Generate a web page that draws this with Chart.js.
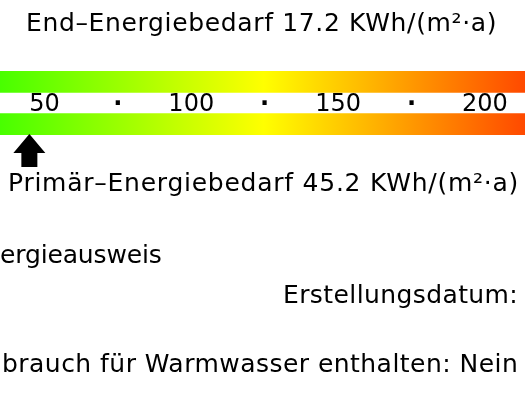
<!DOCTYPE html>
<html>
<head>
<meta charset="utf-8">
<script src="https://cdn.jsdelivr.net/npm/chart.js@4"></script>
<style>
  html, body { margin: 0; padding: 0; background: #fff; }
  #wrap { position: relative; width: 525px; height: 394px; overflow: hidden; }
  #wrap canvas { position: absolute; left: 0; top: 0; }
  .t { position: absolute; font-family: "DejaVu Sans", sans-serif; font-size: 25px; line-height: 25px; color: #000; white-space: nowrap; }
</style>
</head>
<body>
<div id="wrap">
  <canvas id="c" width="525" height="394"></canvas>
  <div class="t" id="tEnd" style="left:26px; top:9.5px; letter-spacing:0.65px;"></div>
  <div class="t" id="tPrim" style="left:8px; top:169.5px; letter-spacing:0.75px;"></div>
  <div class="t" id="tAus" style="left:0px; top:242px; letter-spacing:-0.15px;"></div>
  <div class="t" id="tDat" style="left:283px; top:282px; letter-spacing:0.4px;"></div>
  <div class="t" id="tWw" style="left:2px; top:350.5px; letter-spacing:0.46px;"></div>
</div>
<script>
// ---- data ----
const rows = ['end', 'scale', 'primaer'];
const tickValues = [50, 75, 100, 125, 150, 175, 200];
const tickLabels = ['50', '·', '100', '·', '150', '·', '200'];
const gradientStops = [0, 125, 250];
const gradientColors = ['#00ff00', '#ffff00', '#ff0000'];
const endEnergy = 17.2;
const primaryEnergy = 45.2;
const viewMin = 35.2;
const viewMax = 214;
const textEnd = 'End–Energiebedarf ' + endEnergy + ' KWh/(m²·a)';
const textPrim = 'Primär–Energiebedarf ' + primaryEnergy + ' KWh/(m²·a)';
const textAus = 'ergieausweis';
const textDat = 'Erstellungsdatum:';
const textWw = 'brauch für Warmwasser enthalten: Nein';

document.getElementById('tEnd').textContent = textEnd;
document.getElementById('tPrim').textContent = textPrim;
document.getElementById('tAus').textContent = textAus;
document.getElementById('tDat').textContent = textDat;
document.getElementById('tWw').textContent = textWw;

const FONT = '"DejaVu Sans", sans-serif';
const lo = gradientStops[0], hi = gradientStops[gradientStops.length - 1];

function barGradient(context) {
  const chart = context.chart;
  const area = chart.chartArea;
  if (!area) return 'rgba(0,0,0,0)';
  const xs = chart.scales.x;
  const g = chart.ctx.createLinearGradient(xs.getPixelForValue(lo), 0, xs.getPixelForValue(hi), 0);
  gradientStops.forEach((v, i) => g.addColorStop((v - lo) / (hi - lo), gradientColors[i]));
  return g;
}

const scalePlugin = {
  id: 'scaleLabels',
  afterDatasetsDraw(chart) {
    const c = chart.ctx, xs = chart.scales.x, ys = chart.scales.y;
    const yMid = ys.getPixelForValue(1);
    c.save();
    c.fillStyle = '#000';
    c.textAlign = 'center';
    c.textBaseline = 'alphabetic';
    tickValues.forEach((v, i) => {
      const lab = tickLabels[i];
      c.font = (lab === '·' ? 'bold 24px ' : '24px ') + FONT;
      c.fillText(lab, xs.getPixelForValue(v) + 1, yMid + 8);
    });
    // arrows
    const drawArrow = (x, yTip, dir) => {
      c.beginPath();
      c.moveTo(x, yTip);
      c.lineTo(x + 16, yTip + dir * 19);
      c.lineTo(x + 8, yTip + dir * 19);
      c.lineTo(x + 8, yTip + dir * 33);
      c.lineTo(x - 8, yTip + dir * 33);
      c.lineTo(x - 8, yTip + dir * 19);
      c.lineTo(x - 16, yTip + dir * 19);
      c.closePath();
      c.fillStyle = '#000';
      c.fill();
    };
    drawArrow(xs.getPixelForValue(primaryEnergy), chart.chartArea.bottom - 1, 1);
    drawArrow(xs.getPixelForValue(endEnergy), chart.chartArea.top + 1, -1);
    c.restore();
  }
};

new Chart(document.getElementById('c'), {
  type: 'bar',
  data: {
    labels: rows,
    datasets: [{
      data: [[lo, hi], null, [lo, hi]],
      backgroundColor: barGradient,
      borderWidth: 0,
      barPercentage: 1,
      categoryPercentage: 1,
      clip: 0
    }]
  },
  options: {
    indexAxis: 'y',
    responsive: false,
    animation: false,
    events: [],
    layout: { padding: { top: 71, bottom: 259, left: 0, right: 0 } },
    plugins: { legend: { display: false }, tooltip: { enabled: false }, title: { display: false } },
    scales: {
      x: { type: 'linear', min: viewMin, max: viewMax, display: false },
      y: { type: 'category', display: false }
    }
  },
  plugins: [scalePlugin]
});
</script>
</body>
</html>
